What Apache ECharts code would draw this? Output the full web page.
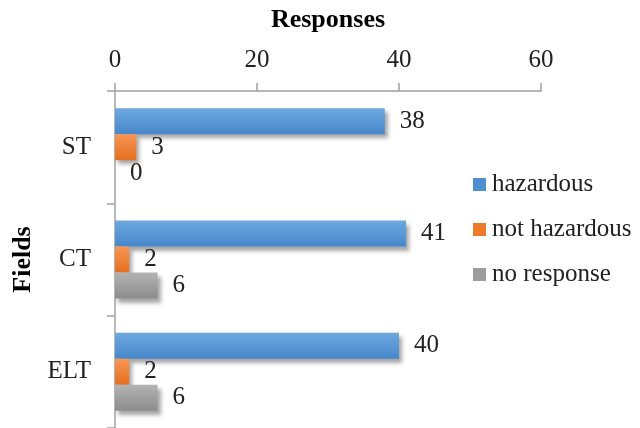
<!DOCTYPE html>
<html><head><meta charset="utf-8">
<script src="https://cdn.jsdelivr.net/npm/echarts@6/dist/echarts.min.js"></script>
<style>html,body{margin:0;padding:0;background:#fff}#c{width:640px;height:428px}</style>
</head><body><div id="c"></div>
<script>
const categories = ['ST', 'CT', 'ELT'];
const hazardous = [38, 41, 40];
const notHazardous = [3, 2, 2];
const noResponse = [0, 6, 6];
const xTicks = [0, 20, 40, 60];
const seriesNames = ['hazardous', 'not hazardous', 'no response'];

const font = '"Liberation Serif", "DejaVu Serif", serif';
function grad(a, b) {
  return new echarts.graphic.LinearGradient(0, 0, 0, 1, [{offset: 0, color: a}, {offset: 1, color: b}]);
}
const fills = [grad('#6ea8df', '#4687cb'), grad('#f79656', '#e56f1e'), grad('#b3b3b3', '#8c8c8c')];
const legendColors = ['#4f8fd0', '#ee7a2c', '#9c9c9c'];
const datas = [hazardous, notHazardous, noResponse];

const chart = echarts.init(document.getElementById('c'));
chart.setOption({
  animation: false,
  textStyle: {fontFamily: font},
  grid: {left: 115, right: 99, top: 91, bottom: -2, containLabel: false},
  legend: {
    orient: 'vertical', left: 468, top: 167, itemWidth: 13, itemHeight: 13, itemGap: 20,
    icon: 'rect',
    textStyle: {fontFamily: font, fontSize: 25, color: '#222', padding: [0, 0, 0, 1]},
    data: seriesNames.map((n, i) => ({name: n, itemStyle: {color: legendColors[i]}}))
  },
  xAxis: {
    type: 'value', position: 'top', min: 0, max: 60, interval: 20,
    name: 'Responses', nameLocation: 'middle', nameGap: 58,
    nameTextStyle: {fontFamily: font, fontSize: 26, fontWeight: 'bold', color: '#000'},
    axisLine: {show: true, lineStyle: {color: '#a0a0a0', width: 1.5}},
    axisTick: {show: true, length: 8, lineStyle: {color: '#a0a0a0', width: 1.5}},
    axisLabel: {fontFamily: font, fontSize: 25, color: '#222', margin: 18,
      formatter: v => xTicks.includes(v) ? String(v) : ''},
    splitLine: {show: false}
  },
  yAxis: {
    type: 'category', data: categories, inverse: true,
    name: 'Fields', nameLocation: 'middle', nameGap: 78, nameRotate: 90,
    nameTextStyle: {fontFamily: font, fontSize: 26, fontWeight: 'bold', color: '#000'},
    axisLine: {show: true, lineStyle: {color: '#a0a0a0', width: 1.5}},
    axisTick: {show: true, length: 8, lineStyle: {color: '#a0a0a0', width: 1.5}},
    axisLabel: {fontFamily: font, fontSize: 25, color: '#222', margin: 24},
    splitLine: {show: false}
  },
  series: seriesNames.map((n, i) => ({
    name: n, type: 'bar', data: datas[i],
    barWidth: 26, barGap: '0%',
    itemStyle: {color: fills[i], shadowColor: 'rgba(0,0,0,0.35)', shadowBlur: 4, shadowOffsetX: 3, shadowOffsetY: 4},
    label: {show: true, position: 'right', distance: 15, fontFamily: font, fontSize: 25, color: '#222'}
  }))
});
</script></body></html>
